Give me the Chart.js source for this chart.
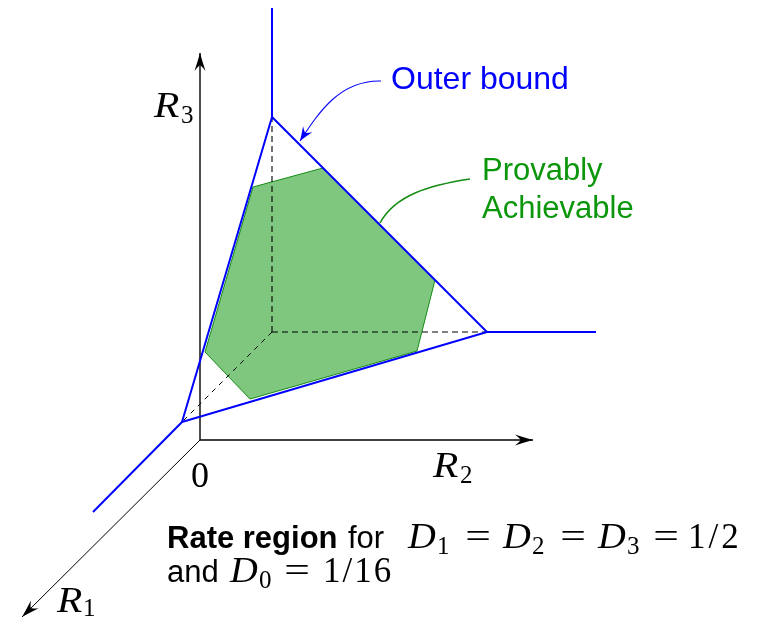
<!DOCTYPE html>
<html>
<head>
<meta charset="utf-8">
<script src="https://cdn.jsdelivr.net/npm/chart.js@4.4.1/dist/chart.umd.min.js"></script>
<style>
html, body { margin: 0; padding: 0; background: #fff; }
#diagram { display: block; }
</style>
</head>
<body>
<canvas id="diagram" width="767" height="619"></canvas>
<script>
// sketch plane: x to the right, y downward, one unit per canvas pixel
var origin = [200, 440];
var axisR1End = [22, 617];
var axisR2End = [533, 440];
var axisR3End = [200, 53];

// outer bound: triangle plus the three rays leaving its corners
var outerTop = [272, 117];
var outerRight = [487, 332];
var outerLeft = [182, 422];
var outerCorner = [272, 332];
var rayTopEnd = [272, 8];
var rayRightEnd = [596, 332];
var rayLeftEnd = [93, 512];

// provably achievable hexagon (closed)
var achievableX = [253, 323, 435, 417, 250, 205, 253];
var achievableY = [187, 168, 280, 351, 399, 352, 187];

// callout curves (start, control, control, end)
var outerPointer = [[381, 81], [340, 80], [319, 112], [300, 141]];
var achievablePointer = [[470, 179], [430, 185], [395, 195], [380, 223]];

var outerLabel = ['Outer bound'];
var achievableLabel = ['Provably', 'Achievable'];

var BLUE = '#0000ff';
var GREEN_TEXT = '#0b960b';
var GREEN_LINE = '#128c12';
var GREEN_FILL = 'rgba(0,143,0,0.5)';

function seg() {
	var out = [];
	for (var i = 0; i < arguments.length; i++) {
		out.push({x: arguments[i][0], y: arguments[i][1]});
	}
	return out;
}

function lineSet(data, color, width, dash, order) {
	return {
		data: data,
		showLine: true,
		borderColor: color,
		borderWidth: width,
		borderDash: dash || [],
		pointRadius: 0,
		tension: 0,
		fill: false,
		order: order
	};
}

var hexagon = achievableX.map(function (x, i) { return {x: x, y: achievableY[i]}; });

var datasets = [
	lineSet(seg(outerTop, outerRight, outerLeft, outerTop), BLUE, 2, null, 0),
	lineSet(seg(outerTop, rayTopEnd), BLUE, 2, null, 0),
	lineSet(seg(outerRight, rayRightEnd), BLUE, 2, null, 0),
	lineSet(seg(outerLeft, rayLeftEnd), BLUE, 2, null, 0),
	lineSet(seg(origin, axisR3End), '#000', 1.4, null, 1),
	lineSet(seg(origin, axisR2End), '#000', 1.4, null, 1),
	lineSet(seg(origin, axisR1End), '#000', 1, null, 1),
	lineSet(seg(outerCorner, outerTop), '#000', 1.1, [6, 4], 2),
	lineSet(seg(outerCorner, outerRight), '#000', 1.1, [6, 4], 2),
	lineSet(seg(outerCorner, outerLeft), '#000', 1, [5, 5], 2),
	{
		data: hexagon,
		showLine: true,
		borderColor: GREEN_LINE,
		borderWidth: 1,
		backgroundColor: GREEN_FILL,
		pointRadius: 0,
		tension: 0,
		fill: 'shape',
		order: 3
	}
];

// LaTeX-like arrow tip with concave back
function arrowTip(ctx, tip, from, len, half, color) {
	var dx = tip[0] - from[0], dy = tip[1] - from[1];
	var d = Math.sqrt(dx * dx + dy * dy);
	var ux = dx / d, uy = dy / d, nx = -uy, ny = ux;
	var bx = tip[0] - ux * len, by = tip[1] - uy * len;
	var mx = tip[0] - ux * len * 0.7, my = tip[1] - uy * len * 0.7;
	ctx.save();
	ctx.fillStyle = color;
	ctx.beginPath();
	ctx.moveTo(tip[0], tip[1]);
	ctx.quadraticCurveTo(tip[0] - ux * len * 0.5 + nx * half * 0.45, tip[1] - uy * len * 0.5 + ny * half * 0.45,
		bx + nx * half, by + ny * half);
	ctx.quadraticCurveTo(mx + nx * half * 0.2, my + ny * half * 0.2, mx, my);
	ctx.quadraticCurveTo(mx - nx * half * 0.2, my - ny * half * 0.2, bx - nx * half, by - ny * half);
	ctx.quadraticCurveTo(tip[0] - ux * len * 0.5 - nx * half * 0.45, tip[1] - uy * len * 0.5 - ny * half * 0.45,
		tip[0], tip[1]);
	ctx.closePath();
	ctx.fill();
	ctx.restore();
}

var SANS = '"Liberation Sans", Arial, sans-serif';
var SERIF = '"Liberation Serif", "Times New Roman", serif';

// text helper; stretch widens glyphs horizontally (math letters run wide)
function put(ctx, text, x, y, font, color, align, spacing, stretch) {
	ctx.save();
	ctx.font = font;
	ctx.fillStyle = color;
	ctx.textAlign = align || 'left';
	ctx.textBaseline = 'alphabetic';
	ctx.letterSpacing = spacing || '0px';
	ctx.translate(x, y);
	ctx.scale(stretch || 1, 1);
	ctx.fillText(text, 0, 0);
	ctx.restore();
}

var annotations = {
	id: 'annotations',
	afterDatasetsDraw: function (chart) {
		var ctx = chart.ctx;
		var sx = chart.scales.x, sy = chart.scales.y;
		function P(p) { return [sx.getPixelForValue(p[0]), sy.getPixelForValue(p[1])]; }

		// axis arrow tips
		arrowTip(ctx, P(axisR3End), P(origin), 18, 5.5, '#000');
		arrowTip(ctx, P(axisR2End), P(origin), 18, 5.5, '#000');
		arrowTip(ctx, P(axisR1End), P(origin), 18, 5.5, '#000');

		// callout curves
		function curve(pts, color, width) {
			var a = P(pts[0]), b = P(pts[1]), c = P(pts[2]), e = P(pts[3]);
			ctx.save();
			ctx.strokeStyle = color;
			ctx.lineWidth = width;
			ctx.beginPath();
			ctx.moveTo(a[0], a[1]);
			ctx.bezierCurveTo(b[0], b[1], c[0], c[1], e[0], e[1]);
			ctx.stroke();
			ctx.restore();
		}
		curve(outerPointer, BLUE, 1.1);
		arrowTip(ctx, P(outerPointer[3]), P(outerPointer[2]), 14, 5.5, BLUE);
		curve(achievablePointer, GREEN_LINE, 1.5);

		// callout texts
		put(ctx, outerLabel[0], 391, 89, '32px ' + SANS, BLUE);
		put(ctx, achievableLabel[0], 482, 180, '31px ' + SANS, GREEN_TEXT);
		put(ctx, achievableLabel[1], 482, 218, '31px ' + SANS, GREEN_TEXT);

		// axis labels
		var mi = 'italic 36px ' + SERIF, sub = '25px ' + SERIF;
		put(ctx, 'R', 154, 117, mi, '#000', 'left', null, 1.15);
		put(ctx, '3', 181, 123, sub, '#000');
		put(ctx, 'R', 433, 477, mi, '#000', 'left', null, 1.15);
		put(ctx, '2', 460, 483, sub, '#000');
		put(ctx, 'R', 57, 612, mi, '#000', 'left', null, 1.15);
		put(ctx, '1', 83, 616, sub, '#000');
		put(ctx, '0', 200, 487, '36px ' + SERIF, '#000', 'center');

		// caption
		var tm = 'italic 35px ' + SERIF, tr = '35px ' + SERIF, ts = '25px ' + SERIF;
		put(ctx, 'Rate region', 167, 548, 'bold 31px ' + SANS, '#000');
		put(ctx, 'for', 348, 548, '31px ' + SANS, '#000');
		put(ctx, 'D', 408, 548, tm, '#000', 'left', null, 1.1);
		put(ctx, '1', 437, 554, ts, '#000');
		put(ctx, '=', 478, 548, tr, '#000', 'center', null, 1.3);
		put(ctx, 'D', 503, 548, tm, '#000', 'left', null, 1.1);
		put(ctx, '2', 532, 554, ts, '#000');
		put(ctx, '=', 573, 548, tr, '#000', 'center', null, 1.3);
		put(ctx, 'D', 598, 548, tm, '#000', 'left', null, 1.1);
		put(ctx, '3', 627, 554, ts, '#000');
		put(ctx, '=', 666, 548, tr, '#000', 'center', null, 1.3);
		put(ctx, '1/2', 688, 548, tr, '#000', 'left', '3px');

		put(ctx, 'and', 167, 582, '31px ' + SANS, '#000');
		put(ctx, 'D', 230, 582, tm, '#000', 'left', null, 1.1);
		put(ctx, '0', 259, 588, ts, '#000');
		put(ctx, '=', 297, 582, tr, '#000', 'center', null, 1.3);
		put(ctx, '1/16', 323, 582, tr, '#000', 'left', '2px');
	}
};

new Chart(document.getElementById('diagram').getContext('2d'), {
	type: 'scatter',
	data: {datasets: datasets},
	options: {
		responsive: false,
		animation: false,
		devicePixelRatio: 1,
		events: [],
		layout: {padding: 0},
		plugins: {
			legend: {display: false},
			tooltip: {enabled: false}
		},
		scales: {
			x: {type: 'linear', min: 0, max: 767, display: false},
			y: {type: 'linear', min: 0, max: 619, reverse: true, display: false}
		}
	},
	plugins: [annotations]
});
</script>
</body>
</html>
